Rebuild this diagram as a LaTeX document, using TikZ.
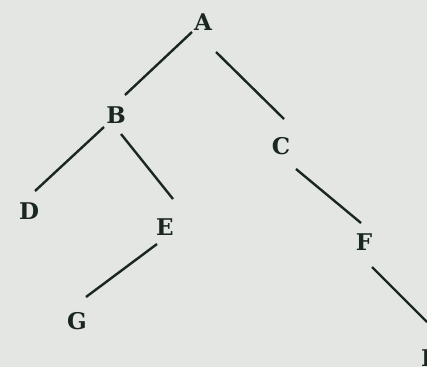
\documentclass[tikz,border=0pt]{standalone}
\usepackage{fontspec}
\setmainfont{DejaVu Serif}
\usetikzlibrary{calc}
\definecolor{paper}{HTML}{E4E6E3}
\definecolor{ink}{HTML}{1A2620}
\begin{document}
\begin{tikzpicture}[x=1pt,y=-1pt,
  vert/.style={text=ink,font=\fontsize{23}{27}\selectfont\bfseries,inner sep=0pt},
  edge/.style={draw=ink,line width=2.4pt}]
\fill[paper] (0,0) rectangle (427,367);
\useasboundingbox (0,0) rectangle (427,367);
\node[vert] (A) at (203,22) {A};
\node[vert] (B) at (116,115) {B};
\node[vert] (C) at (281,146) {C};
\node[vert] (D) at (29,211) {D};
\node[vert] (E) at (165,227) {E};
\node[vert] (F) at (364,242) {F};
\node[vert] (G) at (77,321) {G};
\node[vert] (H) at (432,358) {H};
\draw[edge] ($(A)+(-11,10)$) -- ($(B)+(9,-20)$);
\draw[edge] ($(A)+(13,30)$) -- ($(C)+(3,-27)$);
\draw[edge] ($(B)+(-12,12)$) -- ($(D)+(6,-20)$);
\draw[edge] ($(B)+(5,19)$) -- ($(E)+(8,-28)$);
\draw[edge] ($(E)+(-8,17)$) -- ($(G)+(9,-24)$);
\draw[edge] ($(C)+(15,23)$) -- ($(F)+(-3,-19)$);
\draw[edge] ($(F)+(8,25)$) -- ($(H)+(-5,-36)$);
\end{tikzpicture}
\end{document}
